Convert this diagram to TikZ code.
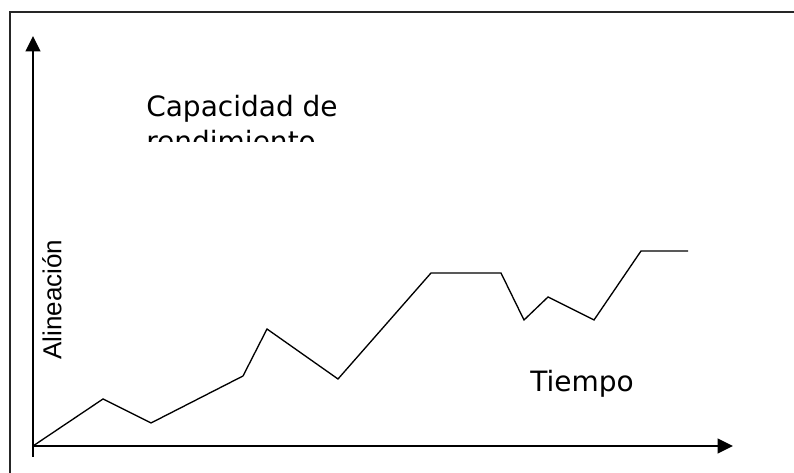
\documentclass[tikz,border=0pt]{standalone}
\usepackage{fontspec}
\setmainfont{DejaVu Sans}
\newfontfamily\arialfont{Liberation Sans}
\usetikzlibrary{arrows.meta}

\tikzset{
  axisline/.style={line width=1.3pt, -{Triangle[length=11.5pt,width=11pt]}},
  curveline/.style={line width=1pt, line join=miter},
  framelines/.style={line width=1.4pt, color=black!85},
  bigtext/.style={anchor=base west, inner sep=0pt, font=\fontsize{21}{25}\selectfont},
}

\begin{document}
\begin{tikzpicture}[x=0.75pt, y=-0.75pt]
			%%%%% START %%%%%
			\useasboundingbox (0, 0) rectangle (794, 473);
			
			\draw[framelines] (10, 473) -- (10, 12) -- (794, 12);
			
			\coordinate (origin) at (33, 446);
			\coordinate (ytop) at (33, 36);
			\coordinate (xend) at (733, 446);
			\coordinate (ybottom) at (33, 457);
			
			\draw[axisline] (ybottom) -- (ytop);
			\draw[axisline] (origin) -- (xend);
			
			\draw[curveline] (origin) -- (103, 399) -- (151, 423) -- (243, 376) -- (267, 329)
				-- (338, 379) -- (431, 273) -- (501, 273) -- (524, 320) -- (548, 297)
				-- (594, 320) -- (641, 251) -- (688, 251);
			
			\node[bigtext] (capacidad) at (146, 117) {Capacidad de};
			\begin{scope}
				\clip (140, 60) rectangle (420, 142);
				\node[bigtext] (rendimiento) at (146, 152) {rendimiento};
			\end{scope}
			
			\node[anchor=base west, inner sep=0pt, rotate=90, font=\arialfont\fontsize{19.5}{24}\selectfont] (alineacion) at (61.5, 360) {Alineación};
			
			\node[bigtext] (tiempo) at (530, 392) {Tiempo};
			%%%%% END %%%%%
\end{tikzpicture}
\end{document}
